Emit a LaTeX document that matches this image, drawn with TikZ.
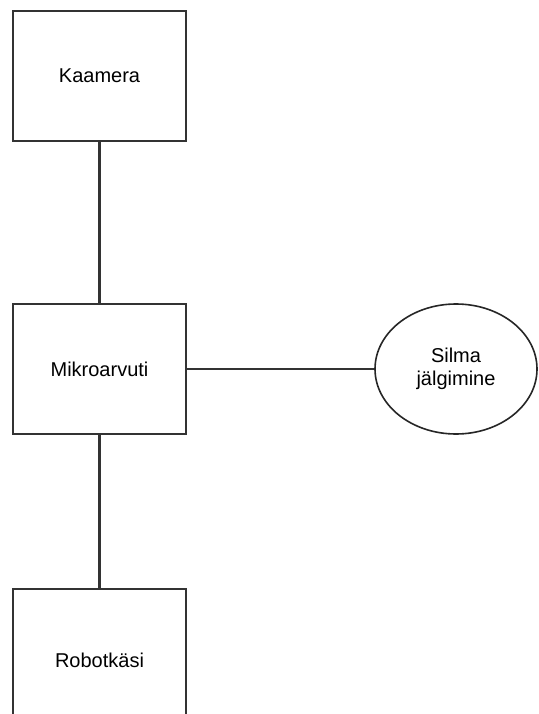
\documentclass[tikz,border=0pt]{standalone}
\usepackage{fontspec}
\setmainfont{Liberation Sans}
\usetikzlibrary{positioning, shapes.geometric}
\definecolor{edgeGray}{RGB}{51, 51, 51}

\begin{document}
\begin{tikzpicture}[x=1pt, y=-1pt,
    box/.style={draw=edgeGray, line width=2.6pt, fill=white,
      minimum width=173pt, minimum height=130pt, inner sep=0pt,
      font=\fontsize{20}{24}\selectfont},
    oval/.style={ellipse, draw=black!85, line width=1.6pt, fill=white,
      minimum width=162pt, minimum height=130pt, inner sep=0pt,
      align=center, font=\fontsize{20}{23.5}\selectfont},
    link/.style={draw=edgeGray, line width=2.6pt}]
    % page frame (pixels of the reference, y downwards)
    \useasboundingbox (0,0) rectangle (538,714);
    \clip (0,0) rectangle (538,714);

    %% -- blocks -------------------------------------------------------
    \node[box] (kaamera) at (99.5,76) {Kaamera};
    \node[box] (mikro)   at (99.5,369) {Mikroarvuti};
    \node[box] (robot)   at (99.5,654) {};
    \node[font=\fontsize{20}{24}\selectfont] (robotlabel) at (99.5,660) {Robotkäsi};
    \node[oval] (silm) at (456,369) {Silma\\jälgimine};

    %% -- links --------------------------------------------------------
    \draw[link] (kaamera.south) -- (mikro.north);
    \draw[link] (mikro.south) -- (robot.north);
    \draw[link] (mikro.east) -- (silm.west);
\end{tikzpicture}
\end{document}
